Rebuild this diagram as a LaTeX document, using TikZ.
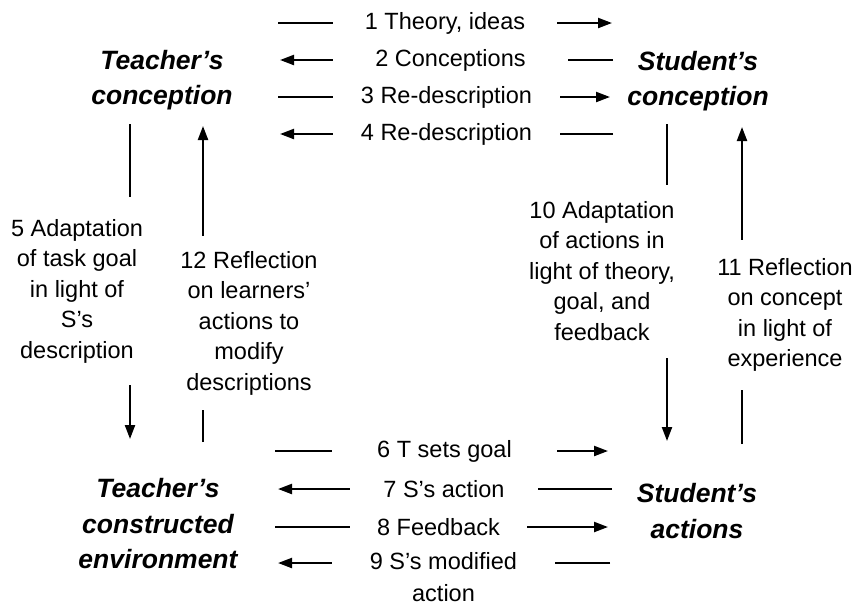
\documentclass[tikz,border=0pt]{standalone}
\usepackage{fontspec}
\setmainfont{Liberation Sans}
\usetikzlibrary{arrows.meta}

\begin{document}
\begin{tikzpicture}[x=1pt,y=-1pt]
\tikzstyle{every node}=[inner sep=0pt]
\tikzstyle{concept}=[align=center, font=\fontsize{26.5}{35.5}\selectfont\bfseries\itshape]
\tikzstyle{lbl}=[align=center, fill=white, font=\fontsize{23.5}{30.5}\selectfont]
\tikzstyle{flow}=[line width=2.2pt, -{Triangle[length=14pt,width=10pt]}]
\useasboundingbox (0,0) rectangle (858,606);
\node[concept] (tc) at (162,80) {Teacher's\\conception};
\node[concept] (sc) at (698,81) {Student's\\conception};
\node[concept] (te) at (158,524) {Teacher's\\constructed\\environment};
\node[concept] (sa) at (697,511) {Student's\\actions};
\coordinate (r1a) at (278,23);
\coordinate (r1b) at (612,23);
\coordinate (r2a) at (280,60);
\coordinate (r2b) at (613,60);
\coordinate (r3a) at (278,97);
\coordinate (r3b) at (610,97);
\coordinate (r4a) at (280,134);
\coordinate (r4b) at (613,134);
\coordinate (r6a) at (275,451);
\coordinate (r6b) at (608,451);
\coordinate (r7a) at (278,489);
\coordinate (r7b) at (612,489);
\coordinate (r8a) at (275,527);
\coordinate (r8b) at (608,527);
\coordinate (r9a) at (278,563);
\coordinate (r9b) at (610,563);
\draw[flow] (r1a) -- (r1b);
\draw[flow] (r2b) -- (r2a);
\draw[flow] (r3a) -- (r3b);
\draw[flow] (r4b) -- (r4a);
\draw[flow] (r6a) -- (r6b);
\draw[flow] (r7b) -- (r7a);
\draw[flow] (r8a) -- (r8b);
\draw[flow] (r9b) -- (r9a);
\node[lbl, minimum width=224pt] (f1) at (445,23) {1 Theory, ideas};
\node[lbl, minimum width=235pt] (f2) at (450.5,60) {2 Conceptions};
\node[lbl, minimum width=227pt] (f3) at (446.5,97) {3 Re-description};
\node[lbl, minimum width=227pt] (f4) at (446.5,134) {4 Re-description};
\node[lbl, minimum width=225pt] (f6) at (444.5,451) {6 T sets goal};
\node[lbl, minimum width=188pt] (f7) at (444,489) {7 S's action};
\node[lbl, minimum width=177pt] (f8) at (438.5,527) {8 Feedback};
\node[lbl, minimum width=223pt] (f9) at (443.5,577) {9 S's modified\\[1pt]action};
\coordinate (c5a) at (130,124);
\coordinate (c5b) at (130,439);
\coordinate (c12a) at (203,126);
\coordinate (c12b) at (203,442);
\coordinate (c10a) at (667,124);
\coordinate (c10b) at (667,441);
\coordinate (c11a) at (742,127);
\coordinate (c11b) at (742,444);
\draw[flow] (c5a) -- (c5b);
\draw[flow] (c12b) -- (c12a);
\draw[flow] (c10a) -- (c10b);
\draw[flow] (c11b) -- (c11a);
\node[lbl, minimum height=188pt] (f5) at (77,291) {5 Adaptation\\of task goal\\in light of\\S's\\description};
\node[lbl, minimum height=174pt] (f12) at (249,323) {12 Reflection\\on learners'\\actions to\\modify\\descriptions};
\node[lbl, minimum height=173pt] (f10) at (602,271) {10 Adaptation\\of actions in\\light of theory,\\goal, and\\feedback};
\node[lbl, minimum height=150pt] (f11) at (785,315) {11 Reflection\\on concept\\in light of\\experience};
\end{tikzpicture}
\end{document}
